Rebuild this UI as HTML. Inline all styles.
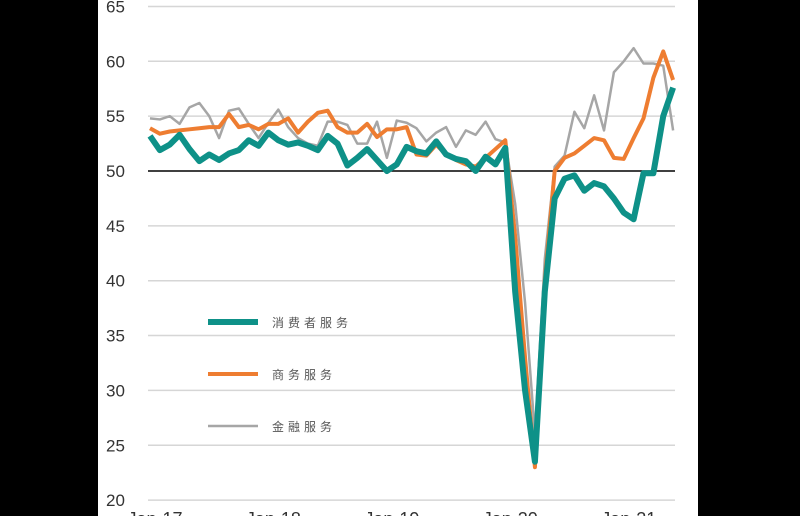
<!DOCTYPE html>
<html><head><meta charset="utf-8"><style>
html,body{margin:0;padding:0;background:#000;width:800px;height:516px;overflow:hidden}
svg{display:block}
</style></head><body>
<svg width="800" height="516" xmlns="http://www.w3.org/2000/svg">
<rect x="98" y="0" width="600" height="516" fill="#fff"/>
<g id="grid"></g><g id="lines"></g><g id="legend"></g>
</svg>
<script>
const yTicks=[20,25,30,35,40,45,50,55,60,65];
const xTickLabels=["Jan-17","Jan-18","Jan-19","Jan-20","Jan-21"];
const xTickIdx=[0,12,24,36,48];
const consumer=[53.2,51.9,52.4,53.3,52,50.9,51.5,51,51.6,51.9,52.8,52.3,53.5,52.8,52.4,52.6,52.3,51.9,53.2,52.5,50.5,51.2,52,51,50,50.6,52.2,51.8,51.6,52.7,51.5,51.1,50.9,50,51.3,50.6,52.1,39,30,23.5,39,47.5,49.3,49.6,48.2,48.9,48.6,47.5,46.2,45.6,49.8,49.8,55,57.6];
const business=[53.9,53.4,53.6,53.7,53.8,53.9,54,54,55.2,54,54.2,53.8,54.3,54.3,54.8,53.5,54.5,55.3,55.5,54,53.5,53.5,54.3,53.1,53.8,53.8,54,51.5,51.4,52.4,51.5,51,50.6,50.4,51.2,52,52.8,44,33,23,40,50,51.2,51.6,52.3,53,52.8,51.2,51.1,53,54.8,58.5,60.9,58.3];
const finance=[54.8,54.7,55,54.3,55.8,56.2,55,53,55.5,55.7,54.3,53,54.4,55.6,54,53,52.5,52.3,54.5,54.5,54.2,52.5,52.5,54.5,51.2,54.6,54.4,53.9,52.7,53.5,54,52.2,53.7,53.3,54.5,52.9,52.6,47,38,26,42,50.4,51.4,55.4,53.9,56.9,53.7,59,60,61.2,59.8,59.8,59.6,53.7];
const seriesNames=["消费者服务","商务服务","金融服务"];
const NS="http://www.w3.org/2000/svg";
const y=v=>171-(v-50)*10.97;
const x=i=>150+i*9.87;
function mk(tag,attrs,parent){const e=document.createElementNS(NS,tag);for(const k in attrs)e.setAttribute(k,attrs[k]);parent.appendChild(e);return e;}
const grid=document.getElementById('grid');
yTicks.forEach(v=>{
  const l=mk('line',{x1:148,x2:675,y1:y(v),y2:y(v),stroke:v===50?'#000':'#d6d6d6','stroke-width':1.5},grid);
  
  
  const t=mk('text',{x:106,y:y(v)+6,'font-family':'Liberation Sans, sans-serif','font-size':17,fill:'#333'},grid);
  t.textContent=v;
  
  
});
xTickLabels.forEach((lab,k)=>{
  const t=mk('text',{x:x(xTickIdx[k])+5,y:525,'text-anchor':'middle','font-family':'Liberation Sans, sans-serif','font-size':18,fill:'#333'},grid);
  t.textContent=lab;
  
  
});
const lines=document.getElementById('lines');
const defs=[[finance,'#a6a6a6',2.5,'finance-line'],[business,'#ee7d31',4,'business-line'],[consumer,'#0e9188',6,'consumer-line']];
defs.forEach(([d,c,w,n])=>{
  const p=mk('polyline',{points:d.map((v,i)=>x(i)+','+y(v)).join(' '),fill:'none',stroke:c,'stroke-width':w,'stroke-linejoin':'round'},lines);
  
  
});
const leg=document.getElementById('legend');
[['#0e9188',6,322],['#ee7d31',4,374],['#a6a6a6',2.5,426]].forEach(([c,w,yy],k)=>{
  const l=mk('line',{x1:208,x2:258,y1:yy,y2:yy,stroke:c,'stroke-width':w},leg);
  
  
  const t=mk('text',{x:272,y:yy+5,'font-family':'Liberation Sans, Noto Sans CJK SC, sans-serif','font-size':12,fill:'#555','letter-spacing':4},leg);
  t.textContent=seriesNames[k];
  
  
});
</script>
</body></html>
